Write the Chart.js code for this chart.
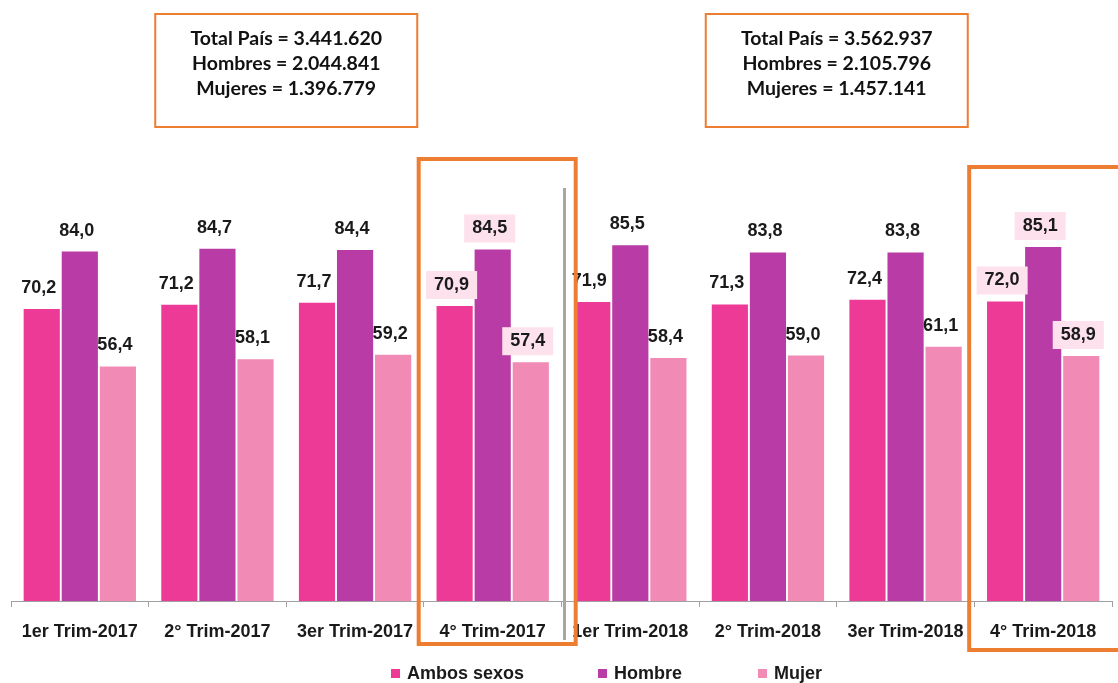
<!DOCTYPE html>
<html>
<head>
<meta charset="utf-8">
<script src="https://cdn.jsdelivr.net/npm/chart.js@4.4.0/dist/chart.umd.min.js"></script>
<style>
  html, body { margin: 0; padding: 0; background: #fff; }
  #wrap { width: 1118px; height: 683px; position: relative; }
</style>
</head>
<body>
<div id="wrap"><canvas id="chart"></canvas></div>
<script>
// Datos
const categories = ['1er Trim-2017', '2° Trim-2017', '3er Trim-2017', '4° Trim-2017',
                    '1er Trim-2018', '2° Trim-2018', '3er Trim-2018', '4° Trim-2018'];
const ambosSexos = [70.2, 71.2, 71.7, 70.9, 71.9, 71.3, 72.4, 72.0];
const hombre = [84.0, 84.7, 84.4, 84.5, 85.5, 83.8, 83.8, 85.1];
const mujer = [56.4, 58.1, 59.2, 57.4, 58.4, 59.0, 61.1, 58.9];
const seriesLabels = ['Ambos sexos', 'Hombre', 'Mujer'];
const highlighted = [3, 7];
const totals2017 = ['Total País = 3.441.620', 'Hombres = 2.044.841', 'Mujeres = 1.396.779'];
const totals2018 = ['Total País = 3.562.937', 'Hombres = 2.105.796', 'Mujeres = 1.457.141'];

const colors = {
  ambos: '#ee3a97',
  hombre: '#b93ba5',
  mujer: '#f28ab6',
  orange: '#ed7d31',
  labelBg: '#fde1ec',
  text: '#1a1a1a'
};
const arial = "'Liberation Sans', Arial, sans-serif";

// Etiquetas de valores sobre las barras
const valueLabels = {
  id: 'valueLabels',
  afterDatasetsDraw(chart) {
    const ctx = chart.ctx;
    ctx.save();
    ctx.font = 'bold 18px ' + arial;
    ctx.textAlign = 'center';
    ctx.textBaseline = 'middle';
    chart.data.datasets.forEach((ds, di) => {
      chart.getDatasetMeta(di).data.forEach((bar, i) => {
        const txt = ds.data[i].toFixed(1).replace('.', ',');
        const x = bar.x - 3;
        const y = bar.y - 21;
        if (highlighted.includes(i)) {
          const w = ctx.measureText(txt).width + 16;
          ctx.fillStyle = colors.labelBg;
          ctx.fillRect(x - w / 2, y - 14, w, 28);
        }
        ctx.fillStyle = colors.text;
        ctx.fillText(txt, x, y);
      });
    });
    ctx.restore();
  }
};

// Recuadros, totales y leyenda
const decorations = {
  id: 'decorations',
  afterDraw(chart) {
    const ctx = chart.ctx;
    const xs = chart.scales.x;
    ctx.save();

    // línea gris entre 2017 y 2018
    const sep = xs.getPixelForValue(3.5) + 3;
    ctx.strokeStyle = '#a6a6a6';
    ctx.lineWidth = 3;
    ctx.beginPath();
    ctx.moveTo(sep, 188);
    ctx.lineTo(sep, 640);
    ctx.stroke();

    // recuadros naranjas del 4° trimestre
    ctx.strokeStyle = colors.orange;
    ctx.lineWidth = 4;
    highlighted.forEach((i, k) => {
      const c = xs.getPixelForValue(i);
      const top = k === 0 ? 159 : 167;
      const bottom = k === 0 ? 644 : 650;
      ctx.strokeRect(c - 74, top, 157, bottom - top);
    });

    // cajas de totales
    [[totals2017, 1.5], [totals2018, 5.5]].forEach(([lines, pos]) => {
      const cx = xs.getPixelForValue(pos);
      ctx.strokeStyle = colors.orange;
      ctx.lineWidth = 2;
      ctx.strokeRect(cx - 131, 14, 262, 113);
      ctx.fillStyle = '#111';
      ctx.font = 'bold 19.5px Lato, sans-serif';
      ctx.textAlign = 'center';
      ctx.textBaseline = 'middle';
      lines.forEach((t, j) => ctx.fillText(t, cx, 39 + j * 25));
    });

    // leyenda
    const legendX = [391, 598, 758];
    ctx.font = 'bold 18px ' + arial;
    ctx.textAlign = 'left';
    ctx.textBaseline = 'middle';
    chart.data.datasets.forEach((ds, di) => {
      ctx.fillStyle = ds.backgroundColor;
      ctx.fillRect(legendX[di], 669, 9, 9);
      ctx.fillStyle = colors.text;
      ctx.fillText(ds.label, legendX[di] + 16, 674);
    });
    ctx.restore();
  }
};

new Chart(document.getElementById('chart'), {
  type: 'bar',
  data: {
    labels: categories,
    datasets: [
      { label: seriesLabels[0], data: ambosSexos, backgroundColor: colors.ambos },
      { label: seriesLabels[1], data: hombre, backgroundColor: colors.hombre },
      { label: seriesLabels[2], data: mujer, backgroundColor: colors.mujer }
    ]
  },
  options: {
    responsive: true,
    maintainAspectRatio: false,
    animation: false,
    layout: { padding: { top: 185, left: 11, right: 6, bottom: 42 } },
    datasets: { bar: { categoryPercentage: 0.83, barPercentage: 0.95 } },
    plugins: {
      legend: { display: false },
      tooltip: { enabled: false }
    },
    scales: {
      y: { display: false, min: 0, max: 100 },
      x: {
        afterFit(axis) { axis.height = 40; },
        border: { color: '#a0a0a0', width: 1 },
        grid: { drawOnChartArea: false, color: '#a0a0a0', tickLength: 6, offset: true },
        ticks: {
          color: colors.text,
          padding: 14,
          autoSkip: false,
          maxRotation: 0,
          minRotation: 0,
          font: { size: 18, weight: 'bold', family: arial }
        }
      }
    }
  },
  plugins: [valueLabels, decorations]
});
</script>
</body>
</html>
